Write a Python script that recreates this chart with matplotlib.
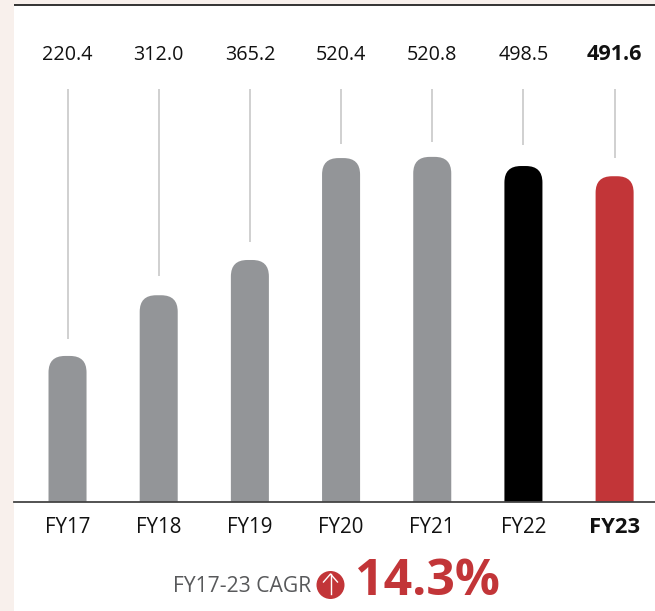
import matplotlib
matplotlib.use("Agg")
import matplotlib.pyplot as plt
from matplotlib.patches import Rectangle, Circle, FancyBboxPatch

plt.rcParams['font.family'] = ['Open Sans', 'DejaVu Sans']

years = ['FY17', 'FY18', 'FY19', 'FY20', 'FY21', 'FY22', 'FY23']
value_labels = ['220.4', '312.0', '365.2', '520.4', '520.8', '498.5', '491.6']
# bar heights as drawn (FY22 is drawn a bit taller than its label says)
heights = [220.4, 312.0, 365.2, 519.0, 520.8, 507.0, 491.6]
leader_ends = [246, 341, 392, 540, 543, 539, 519]
colors = ['#939598', '#939598', '#939598', '#939598', '#939598', '#000000', '#c23538']

W, H = 655, 611
fig = plt.figure(figsize=(W / 100, H / 100), dpi=100, facecolor='#f8f0ec')

# pixel coordinates axes for the panel and the CAGR row
bg = fig.add_axes([0, 0, 1, 1], zorder=0)
bg.set_xlim(0, W)
bg.set_ylim(H, 0)
bg.axis('off')
bg.add_patch(Rectangle((14, 5), W - 14, H - 5, facecolor='white', edgecolor='none'))
bg.plot([14, W], [5, 5], color='#111111', lw=1.2, solid_capstyle='butt')

bg.text(311, 586, 'FY17-23 CAGR', ha='right', va='center', fontsize=15.2, color='#58595b')
bg.add_patch(Circle((330.5, 585), 14, facecolor='#c23538', edgecolor='none'))
bg.plot([330.5, 330.5], [574, 594], color='white', lw=1)
bg.plot([323.5, 330.5, 337.5], [582, 574, 582], color='white', lw=1)
bg.text(355, 582, '14.3%', ha='left', va='center', fontsize=36, fontweight='bold', color='#c23538')

# bars
ax = fig.add_axes([14 / W, (H - 502) / H, (W - 14) / W, 497 / H], zorder=1)
ax.patch.set_alpha(0)
ax.set_xlim(-0.587, 6.443)
ax.set_ylim(0, 750)
aspect = (750 / 497) / (7.03 / 641)
bar_w = 0.417
r = 0.18
x = range(len(years))
for i in x:
    # bottom corners fall below the axis and get clipped
    bar = FancyBboxPatch((i - bar_w / 2, -60), bar_w, heights[i] + 60,
                         boxstyle=f'round,pad=0,rounding_size={r}',
                         mutation_aspect=aspect, facecolor=colors[i], edgecolor='none')
    ax.add_patch(bar)
    ax.plot([i, i], [623, leader_ends[i]], color='#c8c8c8', lw=1.2, solid_capstyle='butt')
    bold = i == 6
    ax.text(i, 675, value_labels[i], ha='center', va='center', color='#111111',
            fontsize=15.5 if bold else 14.2, fontweight='bold' if bold else 'normal')

for s in ['top', 'left', 'right']:
    ax.spines[s].set_visible(False)
ax.spines['bottom'].set_color('#444444')
ax.spines['bottom'].set_linewidth(1.3)
ax.set_yticks([])
ax.set_xticks(list(x))
ax.set_xticklabels(years, fontsize=14.8, color='#111111')
ax.get_xticklabels()[6].set_fontweight('bold')
ax.get_xticklabels()[6].set_fontsize(15.8)
ax.tick_params(axis='x', length=0, pad=11)

fig.savefig('out.png', dpi=100, facecolor=fig.get_facecolor())
